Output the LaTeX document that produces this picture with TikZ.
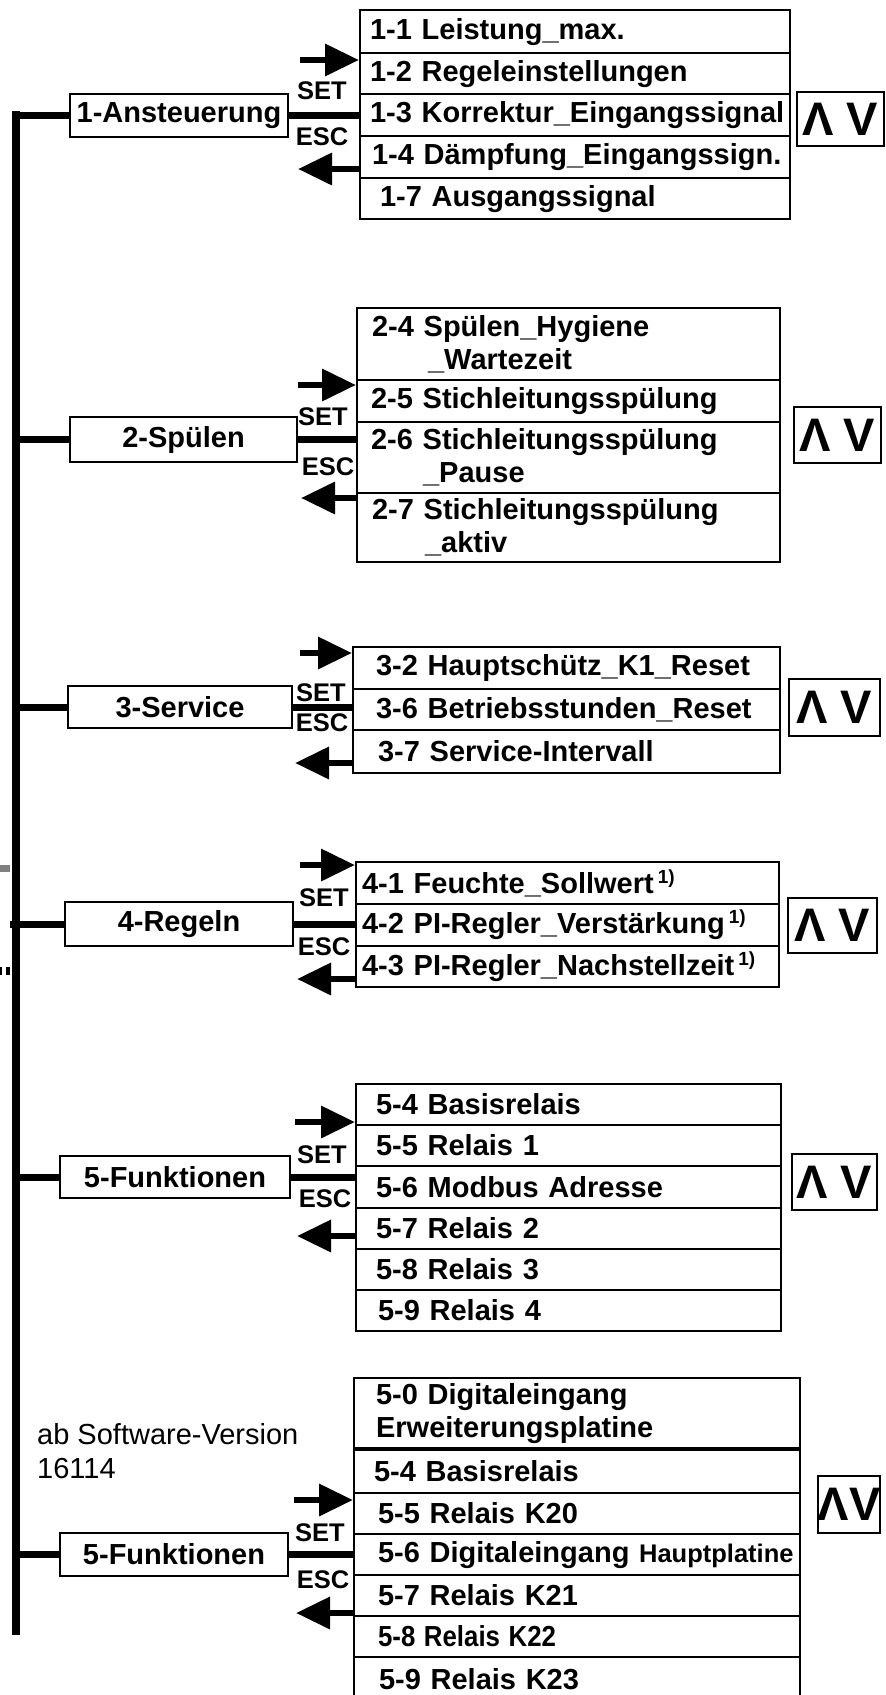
\documentclass[tikz,border=0pt]{standalone}
\usepackage{fontspec}
\usepackage{graphicx}
\setmainfont{Liberation Sans}
\usetikzlibrary{arrows.meta}

\newcommand\menufont{\fontsize{29}{33}\selectfont\bfseries}
\newcommand\smallmenufont{\fontsize{25.5}{30}\selectfont\bfseries}
\newcommand\keyfont{\fontsize{25.5}{28}\selectfont\bfseries}
\newcommand\udfont{\fontsize{47}{50}\selectfont\bfseries}
\newcommand\notefont{\fontsize{29}{34}\selectfont}
\newcommand\fnmark{\hspace{4pt}\raisebox{10pt}{\fontsize{19}{19}\selectfont 1)}}

\tikzset{
  bar/.style={line width=8pt},
  branch/.style={line width=7pt},
  menubox/.style={draw, line width=2pt, inner sep=0pt, font=\menufont},
  item/.style={draw, line width=2.2pt, anchor=north west, inner sep=0pt,
    text width=#1, align=left, font=\menufont},
  key/.style={inner sep=0pt, font=\keyfont},
  updown/.style={draw, line width=2pt, inner sep=0pt, font=\udfont},
  setarrow/.style={line width=6.5pt, -{Triangle[length=34pt,width=31pt]}},
}

\begin{document}
\begin{tikzpicture}[x=1pt,y=-1pt]
\useasboundingbox (0,0) rectangle (886,1695);

% main menu entries
\node[menubox, minimum width=218pt, minimum height=43pt] (a1) at (179,115.5) {1-Ansteuerung};
\node[menubox, minimum width=227pt, minimum height=45pt] (a2) at (183.5,439.5) {2-Spülen};
\node[menubox, minimum width=224pt, minimum height=42pt] (a3) at (180,707) {3-Service};
\node[menubox, minimum width=228pt, minimum height=44pt] (a4) at (179,924) {4-Regeln};
\node[menubox, minimum width=230pt, minimum height=42pt] (a5) at (175,1177) {5-Funktionen};
\node[menubox, minimum width=228pt, minimum height=43pt] (a6) at (174,1554.5) {5-Funktionen};

% list 1
\node[item=430pt, minimum height=43pt] (r11) at (359,9) {\hspace*{10pt}1-1 Leistung\_max.};
\node[item=430pt, minimum height=41pt] (r12) at (359,52) {\hspace*{10pt}1-2 Regeleinstellungen};
\node[item=430pt, minimum height=42pt] (r13) at (359,93) {\hspace*{10pt}1-3 Korrektur\_Eingangssignal};
\node[item=430pt, minimum height=42pt] (r14) at (359,135) {\hspace*{12pt}1-4 Dämpfung\_Eingangssign.};
\node[item=430pt, minimum height=41pt] (r15) at (359,177) {\hspace*{20pt}1-7 Ausgangssignal};

% list 2
\node[item=423pt, minimum height=72pt] (r21) at (356,307) {\hspace*{15pt}2-4 Spülen\_Hygiene\\\hspace*{71pt}\_Wartezeit};
\node[item=423pt, minimum height=42pt] (r22) at (356,379) {\hspace*{14pt}2-5 Stichleitungsspülung};
\node[item=423pt, minimum height=71pt] (r23) at (356,421) {\hspace*{14pt}2-6 Stichleitungsspülung\\\hspace*{66pt}\_Pause};
\node[item=423pt, minimum height=69pt] (r24) at (356,492) {\hspace*{15pt}2-7 Stichleitungsspülung\\\hspace*{68pt}\_aktiv};

% list 3
\node[item=427pt, minimum height=42pt] (r31) at (352,646) {\hspace*{23pt}3-2 Hauptschütz\_K1\_Reset};
\node[item=427pt, minimum height=41pt] (r32) at (352,688) {\hspace*{23pt}3-6 Betriebsstunden\_Reset};
\node[item=427pt, minimum height=43pt] (r33) at (352,729) {\hspace*{25pt}3-7 Service-Intervall};

% list 4
\node[item=423pt, minimum height=42pt] (r41) at (355,861) {\hspace*{6pt}4-1 Feuchte\_Sollwert\fnmark};
\node[item=423pt, minimum height=42pt] (r42) at (355,903) {\hspace*{6pt}4-2 PI-Regler\_Verstärkung\fnmark};
\node[item=423pt, minimum height=41pt] (r43) at (355,945) {\hspace*{6pt}4-3 PI-Regler\_Nachstellzeit\fnmark};

% list 5
\node[item=425pt, minimum height=41pt] (r51) at (355,1083) {\hspace*{20pt}5-4 Basisrelais};
\node[item=425pt, minimum height=41pt] (r52) at (355,1124) {\hspace*{20pt}5-5 Relais 1};
\node[item=425pt, minimum height=42pt] (r53) at (355,1165) {\hspace*{20pt}5-6 Modbus Adresse};
\node[item=425pt, minimum height=41pt] (r54) at (355,1207) {\hspace*{20pt}5-7 Relais 2};
\node[item=425pt, minimum height=41pt] (r55) at (355,1248) {\hspace*{20pt}5-8 Relais 3};
\node[item=425pt, minimum height=41pt] (r56) at (355,1289) {\hspace*{22pt}5-9 Relais 4};

% list 5, new software
\node[item=446pt, minimum height=70pt] (r61) at (353,1377) {\hspace*{22pt}5-0 Digitaleingang\\\hspace*{22pt}Erweiterungsplatine};
\node[item=446pt, minimum height=43pt] (r62) at (353,1449) {\hspace*{20pt}5-4 Basisrelais};
\node[item=446pt, minimum height=41pt] (r63) at (353,1492) {\hspace*{24pt}5-5 Relais K20};
\node[item=446pt, minimum height=41pt] (r64) at (353,1533) {\hspace*{24pt}5-6 Digitaleingang {\smallmenufont Hauptplatine}};
\node[item=446pt, minimum height=41pt] (r65) at (353,1574) {\hspace*{24pt}5-7 Relais K21};
\node[item=446pt, minimum height=41pt] (r66) at (353,1615) {\hspace*{24pt}\scalebox{0.89}[1]{5-8 Relais K22}};
\node[item=446pt, minimum height=48pt] (r67) at (353,1656) {\hspace*{25pt}\raisebox{4pt}{5-9 Relais K23}};

% up / down keys
\foreach \n/\cx/\cy/\w/\h in {1/840.5/119/87/54, 2/837.5/435/87/56, 3/834.5/707.5/91/57,
  4/832.5/925.5/89/55, 5/834.5/1182/85/56}
  \node[updown, minimum width=\w pt, minimum height=\h pt] (ud\n) at (\cx,\cy) {Λ V};
\node[updown, minimum width=60pt, minimum height=57pt] (ud6) at (849,1504.5) {ΛV};

% SET / ESC
\foreach \n/\sx/\sy/\ex/\ey in {1/322/91/322/137, 2/323/417/328/467, 3/321/693/322/723,
  4/324/898/324/947, 5/322/1155/325/1199, 6/320/1533/323/1580}{
  \node[key] (set\n) at (\sx,\sy) {SET};
  \node[key] (esc\n) at (\ex,\ey) {ESC};
}

% tree
\coordinate (bartop) at (16,111);
\coordinate (barbot) at (16,1635);
\coordinate (stub4) at (10,0);
\draw[bar] (bartop) -- (barbot);
\foreach \n in {1,2,3,5,6}
  \draw[branch] (a\n.west -| bartop) -- (a\n.west);
\draw[branch] (a4.west -| stub4) -- (a4.west);
\foreach \n in {1,...,6}
  \draw[branch] (a\n.east) -- (a\n.east -| r\n1.west);

% SET and ESC arrows
\foreach \n/\xa/\ya/\xb/\yb in {1/300/60/298/169, 2/298/385/301/498, 3/300/653/295/763,
  4/300/865/297/979, 5/295/1122/297/1236, 6/294/1500/296/1613}{
  \coordinate (in\n) at (\xa,\ya);
  \coordinate (out\n) at (\xb,\yb);
  \draw[setarrow] (in\n) -- (in\n -| r\n1.west);
  \draw[setarrow] (out\n -| r\n1.west) -- (out\n);
}

% left edge marks
\draw[line width=7pt, gray] (0,868) -- (10,868);
\draw[line width=8pt] (0,971) -- (1.5,971) (6,971) -- (10,971);

\node[anchor=north west, inner sep=0pt, align=left, font=\notefont] (ver) at (37,1423) {ab Software-Version\\16114};

\end{tikzpicture}
\end{document}
